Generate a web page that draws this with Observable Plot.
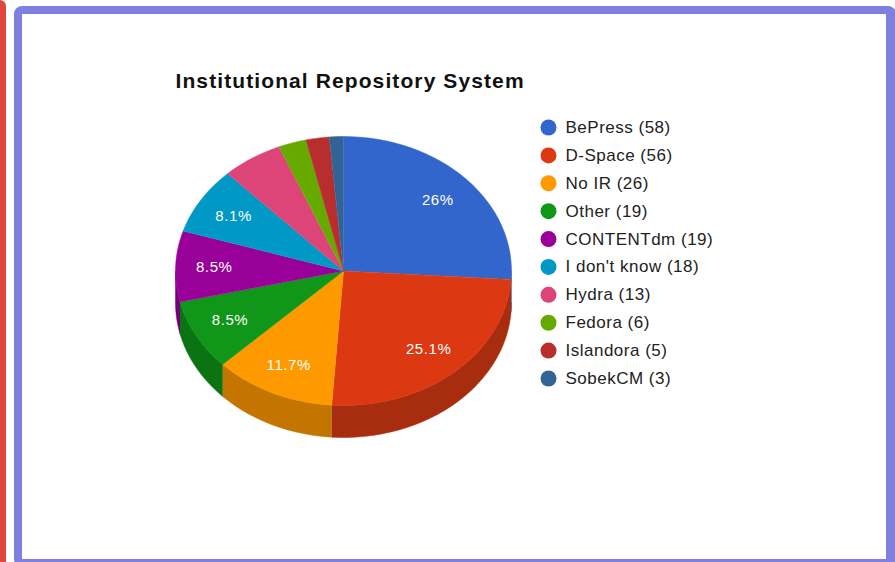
<!DOCTYPE html>
<html><head><meta charset="utf-8">
<script src="https://cdn.jsdelivr.net/npm/d3@7"></script>
<script src="https://cdn.jsdelivr.net/npm/@observablehq/plot@0.6"></script>
<style>
html,body{margin:0;padding:0;background:#fff;overflow:hidden;}
#wrap{position:relative;width:895px;height:562px;overflow:hidden;font-family:Arial,"Liberation Sans",sans-serif;}
#redbar{position:absolute;left:0;top:0;width:6px;height:562px;background:#e0463b;border-radius:0 6px 0 0;}
#frame{position:absolute;left:14px;top:6px;width:882px;height:561px;box-sizing:border-box;border:8px solid #7f7fe0;border-right-width:10px;border-radius:8px;background:#fff;}
#pie,#legend{position:absolute;}
#pie{left:0;top:0;}
#legend{left:535px;top:110px;}
svg{display:block;}
</style></head><body>
<div id="wrap"><div id="redbar"></div><div id="frame"></div><div id="pie"></div><div id="legend"></div></div>
<script>
// ---- data ----
const title = "Institutional Repository System";
const categories = ["BePress","D-Space","No IR","Other","CONTENTdm","I don't know","Hydra","Fedora","Islandora","SobekCM"];
const counts = [58,56,26,19,19,18,13,6,5,3];
const colors = ["#3366cc","#dc3912","#ff9900","#109618","#990099","#0099c6","#dd4477","#66aa00","#b82e2e","#316395"];
const legendLabels = categories.map((c,i)=>`${c} (${counts[i]})`);

// ---- layout ----
const W = 895, H = 562;
const cx = 343, cy = 270.5, rx = 168, ry = 134.5, depthPx = 32;
const depth = depthPx / ry; // in y-units
const font = "Arial, 'Liberation Sans', sans-serif";

const total = d3.sum(counts);
const topFace = [], sideFace = [], labels = [];
let acc = 0;
const N = 120;
categories.forEach((name, i) => {
  const a0 = acc / total * 2 * Math.PI;
  acc += counts[i];
  const a1 = acc / total * 2 * Math.PI;
  const col = colors[i];
  const sideCol = d3.color(col).darker(0.75).formatHex();
  topFace.push({name, x: 0, y: 0, c: col});
  const n = Math.max(2, Math.ceil(N * (a1 - a0) / (2*Math.PI)));
  for (let k = 0; k <= n; k++) {
    const a = a0 + (a1 - a0) * k / n;
    topFace.push({name, x: Math.sin(a), y: -Math.cos(a), c: col});
  }
  const s0 = Math.max(a0, Math.PI/2), s1 = Math.min(a1, 3*Math.PI/2);
  if (s0 < s1) {
    const m = Math.max(2, Math.ceil(N * (s1 - s0) / (2*Math.PI)));
    for (let k = 0; k <= m; k++) {
      const a = s0 + (s1 - s0) * k / m;
      sideFace.push({name, x: Math.sin(a), y: -Math.cos(a), c: sideCol});
    }
    for (let k = m; k >= 0; k--) {
      const a = s0 + (s1 - s0) * k / m;
      sideFace.push({name, x: Math.sin(a), y: -Math.cos(a) + depth, c: sideCol});
    }
  }
  const frac = counts[i] / total;
  if (frac >= 0.07) {
    const am = (a0 + a1) / 2, r = 0.77;
    const pct = Math.round(frac * 1000) / 10;
    labels.push({x: r*Math.sin(am), y: -r*Math.cos(am), text: `${pct}%`});
  }
});

const pie = Plot.plot({
  width: W, height: H,
  margin: 0,
  style: {background: "transparent", fontFamily: font},
  x: {domain: [-1, 1], range: [cx - rx, cx + rx], axis: null},
  y: {domain: [-1, 1], range: [cy - ry, cy + ry], axis: null},
  color: {type: "identity"},
  marks: [
    Plot.line(sideFace, {x: "x", y: "y", z: "name", fill: "c", stroke: "c", strokeWidth: 0.5, curve: "linear"}),
    Plot.line(topFace, {x: "x", y: "y", z: "name", fill: "c", stroke: "c", strokeWidth: 0.5, curve: "linear"}),
    Plot.text(labels, {x: "x", y: "y", text: "text", fill: "white", fontSize: 15}),
    Plot.text([title], {frameAnchor: "top-left", lineAnchor: "middle", dx: 175, dy: 81, text: d => d, textAnchor: "start", fontSize: 21, fontWeight: "bold", fill: "#111"})
  ]
});
pie.querySelectorAll("text").forEach(t => {
  if (t.textContent === title) t.setAttribute("letter-spacing", "1.1");
  else if (t.textContent.endsWith("%")) t.setAttribute("letter-spacing", "0.6");
});
document.getElementById("pie").appendChild(pie);

const legend = Plot.plot({
  width: 220, height: 290,
  margin: 0,
  style: {background: "transparent", fontFamily: font},
  x: {domain: [0, 1], range: [13, 30], axis: null},
  y: {type: "point", domain: categories, range: [17, 268], padding: 0, round: false, axis: null},
  color: {type: "identity"},
  marks: [
    Plot.dot(categories, {x: () => 0, y: d => d, r: 8, fill: (d, i) => colors[i], stroke: null}),
    Plot.text(categories, {x: () => 1, y: d => d, text: (d, i) => legendLabels[i], textAnchor: "start", fontSize: 17, fill: "#222"})
  ]
});
legend.querySelectorAll("text").forEach(t => t.setAttribute("letter-spacing", "0.5"));
document.getElementById("legend").appendChild(legend);
</script>
</body></html>
